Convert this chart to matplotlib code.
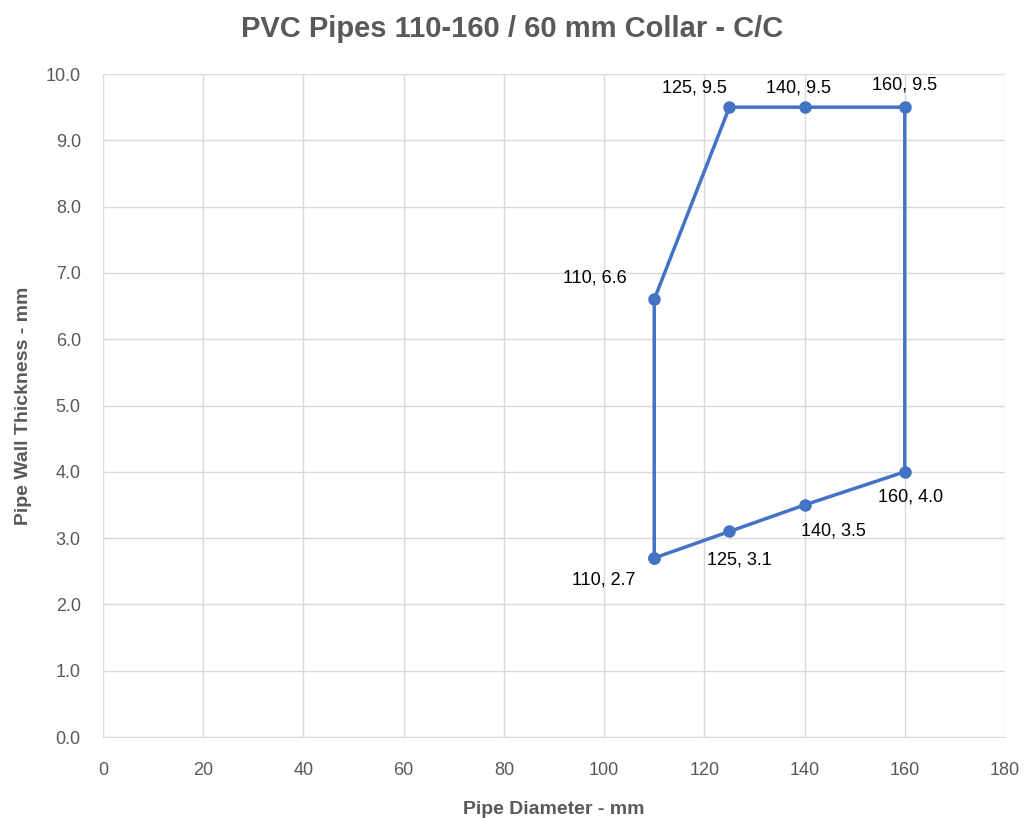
import matplotlib.pyplot as plt
from matplotlib.ticker import FormatStrFormatter

# outline of the collar range, walked round as a closed path
diameter = [110, 125, 140, 160, 160, 140, 125, 110, 110]
thickness = [2.7, 3.1, 3.5, 4.0, 9.5, 9.5, 9.5, 6.6, 2.7]

# where each data label sits relative to its point (pixels)
label_offsets = [(-51, -22), (10, -29), (29, -26), (6, -25),
                 (0, 22), (-6, 19), (-35, 19), (-59, 21)]

grey = "#595959"
blue = "#4472C4"

plt.rcParams['font.family'] = ['Liberation Sans', 'DejaVu Sans']

fig = plt.figure(figsize=(10.25, 8.18), dpi=100)
ax = fig.add_axes([0.1005, 0.099, 0.88, 0.8105])

ax.plot(diameter, thickness, color=blue, lw=2.5, marker="o", ms=8, zorder=3)

for (x, y), (dx, dy) in zip(zip(diameter[:-1], thickness[:-1]), label_offsets):
    ax.annotate(f"{x}, {y:.1f}", (x, y), xytext=(dx * 0.72, dy * 0.72),
                textcoords="offset points", ha="center", va="center",
                fontsize=13, color="black")

ax.set_xlim(0, 180)
ax.set_ylim(0, 10)
ax.set_xticks(range(0, 181, 20))
ax.set_yticks([i for i in range(0, 11)])
ax.yaxis.set_major_formatter(FormatStrFormatter("%.1f"))
ax.grid(True, color="#D9D9D9", lw=1)
ax.set_axisbelow(True)
for s in ["top", "right", "left"]:
    ax.spines[s].set_visible(False)
ax.spines["bottom"].set_color("#D9D9D9")
ax.tick_params(length=0, labelsize=13, colors=grey)
ax.tick_params(axis="x", pad=18)
ax.tick_params(axis="y", pad=16)

ax.set_xlabel("Pipe Diameter - mm", fontsize=14, fontweight="bold", color=grey, labelpad=16)
ax.set_ylabel("Pipe Wall Thickness - mm", fontsize=14, fontweight="bold", color=grey, labelpad=10)
fig.suptitle("PVC Pipes 110-160 / 60 mm Collar - C/C", fontsize=21, fontweight="bold",
             color=grey, y=0.982)

plt.savefig("out.png", dpi=100)
